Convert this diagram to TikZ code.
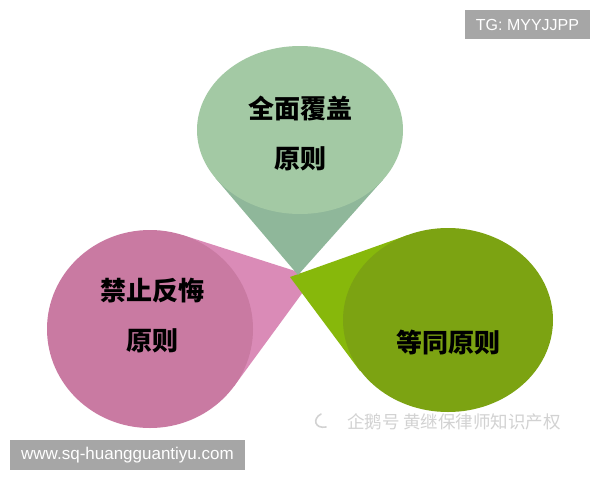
\documentclass[tikz,border=0pt]{standalone}
\usepackage{fontspec}
\usepackage{tikz}
\newfontfamily\cjk{Noto Sans CJK SC}
\newfontfamily\latin{Liberation Sans}
\definecolor{sage face}{HTML}{A3C9A4}
\definecolor{sage cone}{HTML}{8FB79A}
\definecolor{rose face}{HTML}{C97AA2}
\definecolor{rose cone}{HTML}{DA8BB7}
\definecolor{olive face}{HTML}{7CA312}
\definecolor{olive cone}{HTML}{87B80B}
\definecolor{tag gray}{HTML}{A6A6A6}
\definecolor{mark gray}{HTML}{D2D2D2}

\begin{document}
\begin{tikzpicture}[x=1pt, y=-1pt,
		principle/.style = {align=center, font=\cjk\bfseries\fontsize{26}{50}\selectfont},
		tagbox/.style = {fill=tag gray, text=white, inner sep=0pt, font=\latin\fontsize{16}{18}\selectfont}]
		\useasboundingbox (0, 0) rectangle (600, 480);
		\fill[white] (0, 0) rectangle (600, 480);
		% cone for the left principle
		\begin{scope}
			\fill[rose cone] (314, 277) -- (182.4, 235) -- (150, 329) -- (234.2, 386) -- cycle;
			\fill[rose face] (150, 329) ellipse [x radius=103, y radius=99];
		\end{scope}
		% cone for the right principle
		\begin{scope}
			\fill[olive cone] (290, 277) -- (408, 235) -- (448, 320) -- (360, 371) -- cycle;
			\fill[olive face] (448, 320) ellipse [x radius=105, y radius=92];
		\end{scope}
		% cone for the top principle
		\begin{scope}
			\fill[sage cone] (298, 275) -- (215.4, 178) -- (300, 130) -- (383.3, 179.4) -- cycle;
			\fill[sage face] (300, 130) ellipse [x radius=103, y radius=84];
		\end{scope}
		% labels
		\node[principle] (full) at (300, 134) {全面覆盖\\原则};
		\node[principle] (estoppel) at (152, 315.5) {禁止反悔\\原则};
		\node[principle] (equiv) at (448, 342) {等同原则};
		% watermarks
		\draw[mark gray, line width=1.6pt, line cap=round] 
			(321, 414) .. controls (312, 419) and (315, 429) .. (326, 427);
		\node[text=mark gray, font=\cjk\fontsize{17.5}{20}\selectfont] (source) at (454, 422) {企鹅号 黄继保律师知识产权};
		\node[tagbox, minimum width=125, minimum height=29] (tg) at (527.5, 24.5) {TG: MYYJJPP};
		\node[tagbox, minimum width=235, minimum height=30, font=\latin\fontsize{17}{19}\selectfont] (site) at (127.5, 455) {www.sq-huangguantiyu.com};
	\end{tikzpicture}
\end{document}
